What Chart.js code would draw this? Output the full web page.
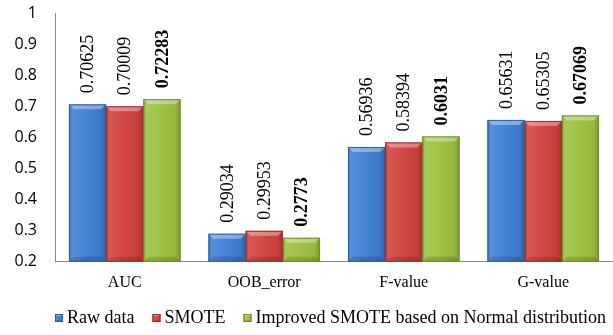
<!DOCTYPE html>
<html>
<head>
<meta charset="utf-8">
<script src="https://cdn.jsdelivr.net/npm/chart.js@4.4.1/dist/chart.umd.min.js"></script>
<style>
  html, body { margin: 0; padding: 0; background: #fff; }
  #wrap { width: 613px; height: 335px; }
</style>
</head>
<body>
<div id="wrap"><canvas id="chart"></canvas></div>
<script>
// chart data
const categories = ['AUC', 'OOB_error', 'F-value', 'G-value'];
const seriesNames = ['Raw data', 'SMOTE', 'Improved SMOTE based on Normal distribution'];
const rawData = [0.70625, 0.29034, 0.56936, 0.65631];
const smoteData = [0.70009, 0.29953, 0.58394, 0.65305];
const improvedData = [0.72283, 0.2773, 0.6031, 0.67069];
const labelText = [
  ['0.70625', '0.29034', '0.56936', '0.65631'],
  ['0.70009', '0.29953', '0.58394', '0.65305'],
  ['0.72283', '0.2773', '0.6031', '0.67069']
];
const yTicks = [0.2, 0.3, 0.4, 0.5, 0.6, 0.7, 0.8, 0.9, 1];

const fills = ['#3f7fd3', '#d2413d', '#9cc13f'];
const edges = ['#2c5f9e', '#9e2c29', '#6f8c2a'];
const serif = '"Liberation Serif", "Times New Roman", serif';

// bevel look on top of the plain bars
function bevelBox(ctx, left, top, w, h, i, b) {
  const g = ctx.createLinearGradient(left, 0, left + w, 0);
  g.addColorStop(0, 'rgba(0,0,0,0.18)');
  g.addColorStop(0.08, 'rgba(255,255,255,0.12)');
  g.addColorStop(0.4, 'rgba(255,255,255,0.05)');
  g.addColorStop(0.85, 'rgba(0,0,0,0.05)');
  g.addColorStop(1, 'rgba(0,0,0,0.22)');
  ctx.fillStyle = g;
  ctx.fillRect(left, top, w, h);
  ctx.beginPath();
  ctx.moveTo(left, top);
  ctx.lineTo(left + w, top);
  ctx.lineTo(left + w - b, top + b);
  ctx.lineTo(left + b, top + b);
  ctx.closePath();
  ctx.fillStyle = 'rgba(255,255,255,0.35)';
  ctx.fill();
  ctx.beginPath();
  ctx.moveTo(left, top + h);
  ctx.lineTo(left + w, top + h);
  ctx.lineTo(left + w - b, top + h - b);
  ctx.lineTo(left + b, top + h - b);
  ctx.closePath();
  ctx.fillStyle = 'rgba(0,0,0,0.15)';
  ctx.fill();
  ctx.strokeStyle = edges[i];
  ctx.lineWidth = 1;
  ctx.strokeRect(left + 0.5, top + 0.5, w - 1, h - 1);
}

const bevelPlugin = {
  id: 'bevel',
  afterDatasetsDraw(chart) {
    const ctx = chart.ctx;
    chart.data.datasets.forEach((ds, i) => {
      chart.getDatasetMeta(i).data.forEach(bar => {
        ctx.save();
        bevelBox(ctx, bar.x - bar.width / 2, bar.y, bar.width, bar.base - bar.y, i, 5);
        ctx.restore();
      });
    });
  }
};

// rotated value labels above bars
const valueLabels = {
  id: 'valueLabels',
  afterDatasetsDraw(chart) {
    const ctx = chart.ctx;
    chart.data.datasets.forEach((ds, i) => {
      chart.getDatasetMeta(i).data.forEach((bar, j) => {
        ctx.save();
        ctx.translate(bar.x, bar.y - 11);
        ctx.rotate(-Math.PI / 2);
        ctx.font = (i === 2 ? 'bold ' : '') + '18px ' + serif;
        ctx.fillStyle = '#000';
        ctx.textAlign = 'left';
        ctx.textBaseline = 'middle';
        ctx.fillText(labelText[i][j], 0, 1);
        ctx.restore();
      });
    });
  }
};

// legend drawn by hand so the spacing matches
const legendPlugin = {
  id: 'customLegend',
  afterDraw(chart) {
    const ctx = chart.ctx;
    let x = 55;
    const y = 318;
    ctx.save();
    ctx.font = '18px ' + serif;
    ctx.textBaseline = 'middle';
    seriesNames.forEach((name, i) => {
      ctx.fillStyle = fills[i];
      ctx.fillRect(x, y - 4, 8, 8);
      bevelBox(ctx, x, y - 4, 8, 8, i, 2);
      ctx.fillStyle = '#000';
      ctx.fillText(name, x + 12, y);
      x += 12 + ctx.measureText(name).width + 18;
    });
    ctx.restore();
  }
};

const dataSets = [rawData, smoteData, improvedData].map((vals, i) => ({
  label: seriesNames[i],
  data: vals,
  base: 0.2,
  backgroundColor: fills[i],
  borderWidth: 0,
  categoryPercentage: 0.8,
  barPercentage: 1.0
}));

new Chart(document.getElementById('chart'), {
  type: 'bar',
  data: { labels: categories, datasets: dataSets },
  options: {
    responsive: true,
    maintainAspectRatio: false,
    animation: false,
    layout: { padding: { top: 13, right: 0, left: 0, bottom: 32 } },
    scales: {
      y: {
        min: 0.2,
        max: 1,
        afterBuildTicks: scale => { scale.ticks = yTicks.map(v => ({ value: v })); },
        afterFit: scale => {
          scale.width = 55;
          scale.paddingTop = 0;
          scale.paddingBottom = 0;
        },
        grid: { display: false, drawTicks: false },
        border: { display: true, color: '#8c8c8c', width: 1 },
        ticks: {
          padding: 18,
          color: '#000',
          font: { family: '"Open Sans", "Liberation Sans", sans-serif', size: 16 },
          callback: v => String(Math.round(v * 10) / 10)
        }
      },
      x: {
        afterFit: scale => {
          scale.paddingLeft = 0;
          scale.paddingRight = 0;
        },
        grid: { display: false, drawTicks: false },
        border: { display: true, color: '#8c8c8c', width: 1 },
        ticks: {
          padding: 11,
          color: '#000',
          font: { family: serif, size: 16 }
        }
      }
    },
    plugins: {
      legend: { display: false },
      tooltip: { enabled: false }
    }
  },
  plugins: [bevelPlugin, valueLabels, legendPlugin]
});
</script>
</body>
</html>
